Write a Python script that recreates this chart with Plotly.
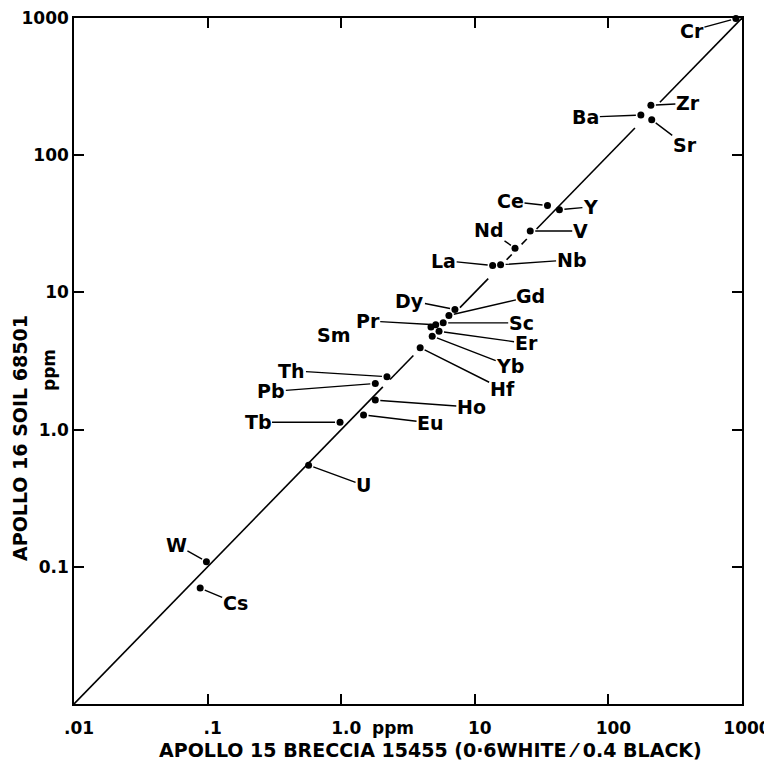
import numpy as np
import plotly.graph_objects as go

# ---- data (ppm) ----
elements = ["Cr", "Zr", "Ba", "Sr", "Ce", "Y", "V", "Nd", "La", "Nb",
            "Dy", "Gd", "Sc", "Pr", "Sm", "Er", "Yb", "Hf", "Th", "Pb",
            "Ho", "Eu", "Tb", "U", "W", "Cs"]
breccia_15455 = [900, 208, 175, 211, 35, 43, 26, 20, 13.6, 15.6,
                 7.1, 6.4, 5.8, 5.1, 4.7, 5.4, 4.8, 3.9, 2.2, 1.8,
                 1.8, 1.47, 0.98, 0.57, 0.098, 0.088]
soil_68501 = [990, 231, 196, 181, 43, 40, 28, 21, 15.7, 15.9,
              7.5, 6.8, 6.0, 5.8, 5.6, 5.2, 4.8, 3.95, 2.43, 2.17,
              1.64, 1.28, 1.13, 0.55, 0.109, 0.070]

x_tickvals = [0.01, 0.1, 1, 10, 100, 1000]
x_ticktext = [".01", ".1", "1.0", "10", "100", "1000"]
y_tickvals = [0.1, 1, 10, 100, 1000]
y_ticktext = ["0.1", "1.0", "10", "100", "1000"]

# 1:1 line, drawn in pieces (ppm extents of each piece)
diag_segments = [(243, 1000), (29, 158), (22.4, 24.5), (17.3, 18.9),
                 (7.74, 12.6), (2.32, 3.47), (0.01, 2.05)]

# ---- label placement (pixel offsets of label from point) ----
label_offsets = {
    "Cr": (-44, 12, True), "Zr": (37, -2, True), "Ba": (-55, 2, True),
    "Sr": (33, 25, True), "Ce": (-37, -4, True), "Y": (31, -3, True),
    "V": (50, 0, True), "Nd": (-26, -18, True), "La": (-49, -5, True),
    "Nb": (71, -5, True), "Dy": (-45, -9, True), "Gd": (82, -19, True),
    "Sc": (78, 0, True), "Pr": (-68, -4, True), "Sm": (-97, 8, False),
    "Er": (87, 12, True), "Yb": (78, 30, True), "Hf": (82, 41, True),
    "Th": (-95, -6, True), "Pb": (-104, 8, True), "Ho": (96, 7, True),
    "Eu": (67, 8, True), "Tb": (-82, 0, True), "U": (55, 20, True),
    "W": (-30, -17, True), "Cs": (35, 15, True),
}

FONT = "DejaVu Sans, Liberation Sans, Arial, sans-serif"

fig = go.Figure()

for lo, hi in diag_segments:
    fig.add_trace(go.Scatter(x=[lo, hi], y=[lo, hi], mode="lines",
                             line=dict(color="black", width=1.6),
                             hoverinfo="skip", showlegend=False))

fig.add_trace(go.Scatter(x=breccia_15455, y=soil_68501, mode="markers",
                         marker=dict(color="black", size=7),
                         text=elements, showlegend=False, cliponaxis=False))

lab_font = dict(family=FONT, size=19, color="black", weight="bold")
annotations = []
for name, xv, yv in zip(elements, breccia_15455, soil_68501):
    ax, ay, leader = label_offsets[name]
    if leader:
        annotations.append(dict(
            x=np.log10(xv), y=np.log10(yv), xref="x", yref="y",
            text=name, showarrow=True, ax=ax, ay=ay,
            arrowhead=0, arrowwidth=1.4, arrowcolor="black", standoff=5,
            font=lab_font, borderpad=0))
    else:
        annotations.append(dict(
            x=np.log10(xv), y=np.log10(yv), xref="x", yref="y",
            text=name, showarrow=False, xshift=ax, yshift=-ay,
            font=lab_font))

title_font = dict(family=FONT, size=19, color="black", weight="bold")
tick_font = dict(family=FONT, size=17, color="black", weight="bold")

# axis titles (placed in screen pixels, converted to paper coords below)
annotations.append(dict(
    x=430, y=750, text="APOLLO 15 BRECCIA 15455 (0·6WHITE ⁄ 0.4 BLACK)",
    showarrow=False, font=title_font))
annotations.append(dict(
    x=393, y=728, text="ppm", showarrow=False, font=tick_font))
annotations.append(dict(
    x=20, y=438, text="APOLLO 16 SOIL 68501", textangle=-90, showarrow=False,
    font=title_font))
annotations.append(dict(
    x=49, y=370, text="ppm", textangle=-90, showarrow=False, font=tick_font))

# plot area on screen (page body has an 8px margin)
BODY = 8
PL, PR, PT, PB = 74, 742, 18, 704
W, H = 772, 766
pw, ph = PR - PL, PB - PT
for a in annotations[-4:]:
    px, py = a["x"], a["y"]
    a["x"] = (px - PL) / pw
    a["y"] = (PB - py) / ph
    a["xref"] = "paper"
    a["yref"] = "paper"
    a["xanchor"] = "center"
    a["yanchor"] = "middle"

axis_common = dict(
    type="log", range=[-2, 3], automargin=False, ticklabeloverflow="allow",
    ticks="inside", ticklen=10, tickwidth=1.5, tickcolor="black",
    showline=True, linecolor="black", linewidth=1.6, mirror="ticks",
    showgrid=False, zeroline=False, tickfont=tick_font)

fig.update_layout(
    width=W, height=H,
    margin=dict(l=PL - BODY, r=W - (PR - BODY), t=PT - BODY, b=H - (PB - BODY),
                autoexpand=False),
    paper_bgcolor="white", plot_bgcolor="white",
    font=dict(family=FONT, size=17, color="black"),
    annotations=annotations,
    xaxis=dict(axis_common, tickvals=x_tickvals, ticktext=x_ticktext,
               ticklabelstandoff=8, ticklabelshift=5),
    yaxis=dict(axis_common, tickvals=y_tickvals, ticktext=y_ticktext),
)

fig.write_html("out.html")
